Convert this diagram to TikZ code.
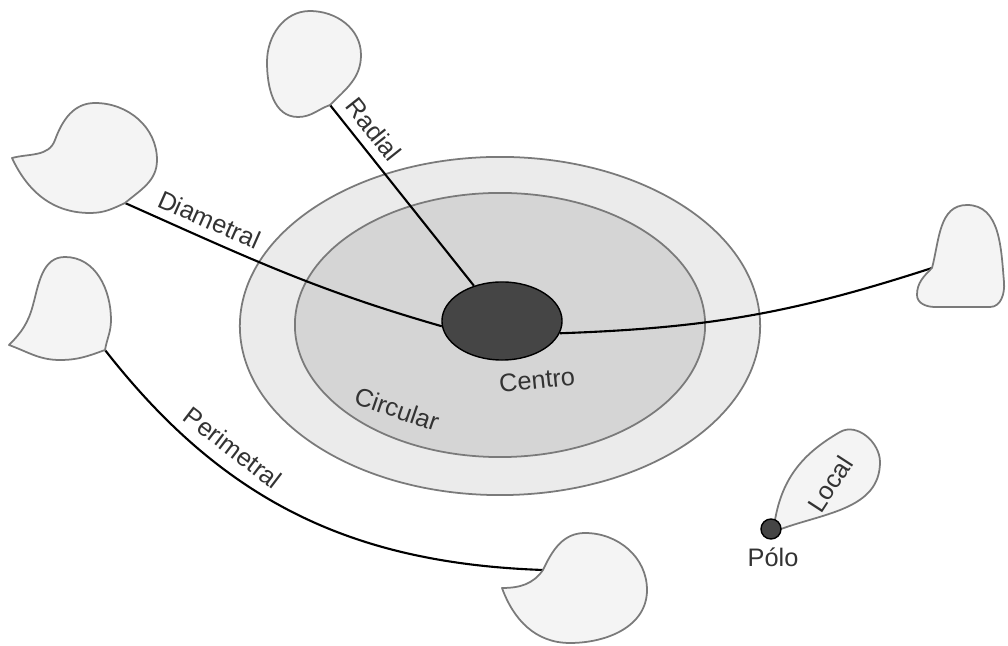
\documentclass[tikz,border=0pt]{standalone}
\usepackage{fontspec}
\setmainfont{Liberation Sans}
\usetikzlibrary{shapes.geometric}
\definecolor{ringout}{HTML}{EBEBEB}
\definecolor{ringin}{HTML}{D5D5D5}
\definecolor{ringline}{HTML}{7A7A7A}
\definecolor{centrofill}{HTML}{454545}
\definecolor{blobfill}{HTML}{F4F4F4}
\definecolor{blobline}{HTML}{7A7A7A}
\definecolor{lbltext}{HTML}{333333}

\begin{document}
\begin{tikzpicture}[x=0.01cm,y=0.01cm,
    blob/.style={draw=blobline,fill=blobfill,line width=0.5pt,line join=round},
    ring/.style={draw=ringline,line width=0.5pt},
    link/.style={draw=black,line width=0.6pt},
    lbl/.style={text=lbltext,font=\fontsize{7.2}{9}\selectfont,inner sep=1.5pt}]
  \useasboundingbox (0,0) rectangle (1008,-646);

  \draw[ring,fill=ringout] (500,-326) ellipse [x radius=2.6cm,y radius=1.69cm];
  \draw[ring,fill=ringin] (500,-325) ellipse [x radius=2.05cm,y radius=1.32cm];

  \node[ellipse,draw=black,fill=centrofill,minimum width=1.2cm,minimum height=0.78cm,inner sep=0pt] (centro) at (502,-321) {};
  \coordinate (radtip) at (330,-105);
  \coordinate (diamtip) at (125,-203);
  \coordinate (easttip) at (932,-268);
  \coordinate (perimtip) at (105,-350);
  \coordinate (bottip) at (543,-570);

  \draw (radtip) edge[link] node[lbl,sloped,above=1pt,pos=0.2] (lblradial) {Radial} (centro);
  \draw (diamtip) edge[link,out=-24,in=164] node[lbl,sloped,above=1pt,pos=0.23] (lbldiam) {Diametral} (centro.185);
  \draw (centro.-12) edge[link,out=2,in=198] (easttip);
  \draw (perimtip) edge[link,out=-52,in=178] node[lbl,sloped,above=2pt,pos=0.31] (lblperim) {Perimetral} (bottip);

  \draw[blob] (radtip) to[out=45,in=-90] (361,-55) to[out=90,in=0] (310,-11) to[out=180,in=90] (267,-62) to[out=-90,in=180] (298,-117) to[out=0,in=200] (radtip) -- cycle;
  \draw[blob] (12,-158) to[out=-65,in=180] (90,-213) to[out=0,in=205] (diamtip) to[out=40,in=-90] (157,-160) to[out=90,in=0] (95,-103) to[out=180,in=70] (55,-140) to[out=-110,in=15] (12,-158) -- cycle;
  \draw[blob] (9,-345) to[out=-20,in=180] (60,-360) to[out=0,in=200] (perimtip) to[out=80,in=-90] (111,-320) to[out=90,in=0] (65,-257) to[out=180,in=75] (33,-305) to[out=-105,in=45] (9,-345) -- cycle;
  \draw[blob] (502,-588) to[out=0,in=235] (bottip) to[out=65,in=180] (585,-533) to[out=0,in=90] (647,-590) to[out=-90,in=0] (570,-643) to[out=180,in=-70] (502,-588) -- cycle;
  \draw[blob] (easttip) to[out=75,in=180] (967,-205) to[out=0,in=95] (1004,-282) to[out=-85,in=0] (990,-307) -- (935,-307) to[out=180,in=-90] (917,-295) to[out=90,in=225] (easttip) -- cycle;
  \draw[blob] (775,-520) to[out=80,in=210] (840,-432) to[out=30,in=90] (880,-462) to[out=-90,in=20] (781,-529) -- cycle;

  \node[circle,draw=black,fill=centrofill,minimum size=0.2cm,inner sep=0pt] (polo) at (771,-529) {};
  \node[lbl] (lblpolo) at (773,-557) {Pólo};
  \node[lbl,rotate=57] (lbllocal) at (830,-484) {Local};
  \node[lbl,rotate=-19] (lblcirc) at (397,-409) {Circular};
  \node[lbl,rotate=6] (lblcentro) at (537,-380) {Centro};
\end{tikzpicture}
\end{document}
